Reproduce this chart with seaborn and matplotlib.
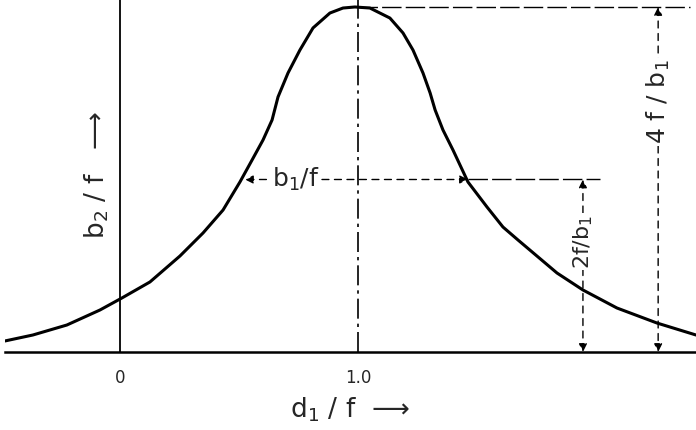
import matplotlib
matplotlib.use("Agg")
import matplotlib.pyplot as plt
import seaborn as sns
import pandas as pd

# Data (d1/f vs b2/f, peak = 4 f/b1)
d1_f = [-0.483, -0.366, -0.223, -0.084, 0.008, 0.126, 0.252, 0.349, 0.433, 0.504,
        0.555, 0.601, 0.639, 0.664, 0.706, 0.756, 0.811, 0.882, 0.937, 0.987,
        1.050, 1.134, 1.189, 1.231, 1.273, 1.303, 1.324, 1.357, 1.399, 1.462,
        1.542, 1.609, 1.672, 1.836, 1.945, 2.088, 2.256, 2.420]
b2_f = [0.128, 0.197, 0.313, 0.487, 0.626, 0.812, 1.113, 1.380, 1.646, 1.971,
        2.226, 2.458, 2.690, 2.957, 3.235, 3.501, 3.757, 3.930, 3.988, 4.000,
        3.988, 3.872, 3.699, 3.501, 3.235, 3.003, 2.806, 2.574, 2.342, 1.971,
        1.681, 1.449, 1.299, 0.916, 0.719, 0.510, 0.336, 0.197]
tick_pos = [0.0, 1.0]
tick_labels = ["0", "1.0"]
peak = 4.0
half = 2.0
half_left, half_right = 0.525, 1.462

sns.set_style("white")
plt.rcParams['font.family'] = ['DejaVu Sans']

fig = plt.figure(figsize=(6.96, 4.30), dpi=100)
ax = fig.add_axes([5/696, 78/430, 691/696, 352/430])
df = pd.DataFrame({"d1_f": d1_f, "b2_f": b2_f})
sns.lineplot(data=df, x="d1_f", y="b2_f", ax=ax, color="black", lw=2.2,
             estimator=None, sort=False)
ax.lines[-1].set_solid_joinstyle("round")
ax.set_xlim(-0.483, 2.42)
ax.set_ylim(0, 4.081)
for s in ["top", "right", "left"]:
    ax.spines[s].set_visible(False)
ax.spines["bottom"].set_linewidth(1.8)
ax.spines["bottom"].set_color("black")
ax.set_yticks([])
ax.set_xticks(tick_pos)
ax.set_xticklabels(tick_labels, fontsize=12)
ax.tick_params(axis="x", length=0, pad=12)
ax.set_xlabel("")
ax.set_ylabel("")

# vertical axis line at x=0
ax.axvline(0, color="black", lw=1.3)
# dash-dot centre line at x=1
ax.axvline(1.0, color="black", lw=1.2, linestyle=(0, (12, 3, 2, 3)))
# top line from peak
ax.plot([1.0, 2.395], [peak, peak], color="black", lw=1.0, linestyle=(0, (14, 3)))
# half-max line continuation
ax.plot([half_right, 2.017], [half, half], color="black", lw=1.0, linestyle=(0, (14, 3)))

dash_arrow = dict(arrowstyle="<|-|>", linestyle=(0, (5, 4)), color="black", lw=1.0,
                  shrinkA=0, shrinkB=0, mutation_scale=12)
ax.annotate("", xy=(half_left, half), xytext=(half_right, half), arrowprops=dash_arrow)
ax.annotate("", xy=(1.945, 0), xytext=(1.945, half), arrowprops=dash_arrow)
ax.annotate("", xy=(2.261, 0), xytext=(2.261, peak), arrowprops=dash_arrow)

bg = dict(facecolor="white", edgecolor="none", pad=1)
ax.text(0.74, half, "b$_1$/f", fontsize=18, ha="center", va="center", bbox=bg)
ax.text(2.261, 2.9, "4 f / b$_1$", fontsize=18, ha="center", va="center",
        rotation=90, bbox=bg)
ax.text(1.945, 1.28, "2f/b$_1$", fontsize=16, ha="center", va="center",
        rotation=90, bbox=bg)

fig.text(350/696, 1 - 410/430, "d$_1$ / f  \u27f6", fontsize=19, ha="center", va="center")
fig.text(97/696, 1 - 175/430, "b$_2$ / f   \u27f6", fontsize=19, ha="center", va="center",
         rotation=90)

fig.savefig("out.png", dpi=100)
